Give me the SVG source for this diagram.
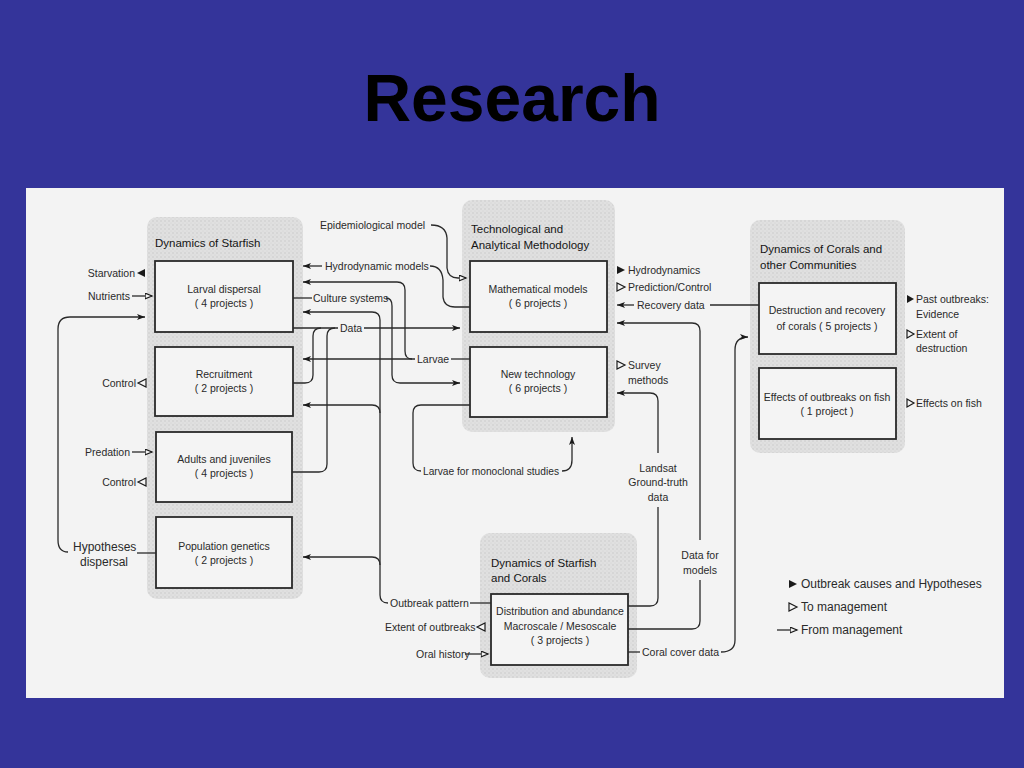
<svg xmlns="http://www.w3.org/2000/svg" width="1024" height="768" viewBox="0 0 1024 768">
<style>
.t{font-family:"Liberation Sans",Arial,sans-serif;font-size:10.5px;fill:#2a2a2a}
.h{font-family:"Liberation Sans",Arial,sans-serif;font-size:11.5px;fill:#151515}
.l{font-family:"Liberation Sans",Arial,sans-serif;font-size:12px;fill:#2a2a2a}
.m{text-anchor:middle}
.e{text-anchor:end}
.box{fill:#f4f4f4;stroke:#2a2a2a;stroke-width:1.8}
.grp{fill:url(#dots)}
.c{fill:none;stroke:#2a2a2a;stroke-width:1.3}
.a{marker-end:url(#arr)}
.o{marker-end:url(#tri)}
.ft{fill:#1a1a1a}
.ot{fill:#f4f4f4;stroke:#1a1a1a;stroke-width:1.2}
</style>
<defs>
<pattern id="dots" width="4" height="4" patternUnits="userSpaceOnUse">
<rect width="4" height="4" fill="#e0e0e0"/>
<circle cx="1" cy="1" r="0.8" fill="#c9c9c9"/>
<circle cx="3" cy="3" r="0.6" fill="#d3d3d3"/>
</pattern>
<marker id="arr" markerWidth="9" markerHeight="7" refX="8" refY="3" orient="auto" markerUnits="userSpaceOnUse">
<path d="M0,0 L8,3 L0,6 L2,3 z" fill="#1a1a1a"/>
</marker>
<marker id="tri" markerWidth="9" markerHeight="8" refX="7.5" refY="3.5" orient="auto" markerUnits="userSpaceOnUse">
<path d="M0.6,0.6 L7.5,3.5 L0.6,6.4 z" fill="#f4f4f4" stroke="#1a1a1a" stroke-width="1.2"/>
</marker>
</defs>
<rect width="1024" height="768" fill="#34349a"/>
<text x="512" y="121" text-anchor="middle" font-family="Liberation Sans,Arial,sans-serif" font-weight="bold" font-size="66" fill="#000">Research</text>
<rect x="26" y="188" width="978" height="510" fill="#f3f3f3"/>

<g id="group-starfish">
<rect class="grp" x="147" y="217" width="156" height="382" rx="10"/>
<text class="h" x="155" y="247">Dynamics of Starfish</text>
</g>
<g id="group-tech">
<rect class="grp" x="462" y="200" width="153" height="232" rx="10"/>
<text class="h" x="471" y="233">Technological and</text>
<text class="h" x="471" y="249">Analytical Methodology</text>
</g>
<g id="group-corals">
<rect class="grp" x="750" y="220" width="155" height="233" rx="10"/>
<text class="h" x="760" y="253">Dynamics of Corals and</text>
<text class="h" x="760" y="269">other Communities</text>
</g>
<g id="group-starfish-corals">
<rect class="grp" x="480" y="533" width="157" height="145" rx="10"/>
<text class="h" x="491" y="567">Dynamics of Starfish</text>
<text class="h" x="491" y="582">and Corals</text>
</g>

<g id="larval">
<rect class="box" x="155" y="261" width="138" height="71"/>
<text class="t m" x="224" y="293">Larval dispersal</text>
<text class="t m" x="224" y="307">( 4 projects )</text>
</g>
<g id="recruitment">
<rect class="box" x="155" y="347" width="138" height="69"/>
<text class="t m" x="224" y="378">Recruitment</text>
<text class="t m" x="224" y="392">( 2 projects )</text>
</g>
<g id="adults">
<rect class="box" x="156" y="432" width="136" height="70"/>
<text class="t m" x="224" y="463">Adults and juveniles</text>
<text class="t m" x="224" y="477">( 4 projects )</text>
</g>
<g id="genetics">
<rect class="box" x="156" y="517" width="136" height="71"/>
<text class="t m" x="224" y="550">Population genetics</text>
<text class="t m" x="224" y="564">( 2 projects )</text>
</g>
<g id="math">
<rect class="box" x="470" y="261" width="137" height="71"/>
<text class="t m" x="538" y="293">Mathematical models</text>
<text class="t m" x="538" y="307">( 6 projects )</text>
</g>
<g id="newtech">
<rect class="box" x="470" y="347" width="137" height="70"/>
<text class="t m" x="538" y="378">New technology</text>
<text class="t m" x="538" y="392">( 6 projects )</text>
</g>
<g id="destruction">
<rect class="box" x="759" y="283" width="137" height="71"/>
<text class="t m" x="827" y="314">Destruction and recovery</text>
<text class="t m" x="827" y="330">of corals ( 5 projects )</text>
</g>
<g id="fish">
<rect class="box" x="759" y="368" width="137" height="71"/>
<text class="t m" x="827" y="401">Effects of outbreaks on fish</text>
<text class="t m" x="827" y="415">( 1 project )</text>
</g>
<g id="distribution">
<rect class="box" x="491" y="594" width="137" height="71"/>
<text class="t m" x="560" y="615">Distribution and abundance</text>
<text class="t m" x="560" y="630">Macroscale / Mesoscale</text>
<text class="t m" x="560" y="644">( 3 projects )</text>
</g>

<g id="connectors">
<text class="t e" x="135" y="277">Starvation</text>
<polygon class="ft" points="137,273 145,269 145,277"/>
<text class="t e" x="130" y="300">Nutrients</text>
<path class="c o" d="M132 296 H152"/>
<path class="c a" d="M68 552 Q58 552 58 540 V329 Q58 317 70 317 H145"/>
<text class="l" x="73" y="551">Hypotheses</text>
<text class="l" x="80" y="566">dispersal</text>
<path class="c" d="M137 553 H156"/>
<text class="t e" x="136" y="387">Control</text>
<polygon class="ot" points="138,383 146,379 146,387"/>
<text class="t e" x="130" y="456">Predation</text>
<path class="c o" d="M132 452 H152"/>
<text class="t e" x="136" y="486">Control</text>
<polygon class="ot" points="138,482 146,478 146,486"/>

<text class="t" x="320" y="229">Epidemiological  model</text>
<path class="c o" d="M431 225 Q446 225 447 238 V268 Q448 278 458 278 H466"/>
<path class="c a" d="M322 266 H303"/>
<text class="t" x="325" y="270">Hydrodynamic  models</text>
<path class="c" d="M430 266 Q442 266 443 280 V297 Q444 307 455 307 H470"/>
<path class="c a" d="M412 359 Q405 359 405 351 V290 Q405 282 397 282 H303"/>
<path class="c a" d="M415 359 H303"/>
<text class="t" x="417" y="363">Larvae</text>
<path class="c" d="M451 359 H470"/>
<path class="c" d="M293 298 H312"/>
<text class="t" x="313" y="302">Culture systems</text>
<path class="c a" d="M386 298 Q392 298 392 306 V375 Q392 383 400 383 H460"/>
<path class="c a" d="M388 603 Q380 603 380 595 V320 Q380 312 372 312 H303"/>
<path class="c a" d="M380 413 Q380 405 372 405 H303"/>
<path class="c a" d="M380 565 Q380 557 372 557 H303"/>
<text class="t" x="390" y="607">Outbreak pattern</text>
<path class="c" d="M470 603 H491"/>
<path class="c" d="M293 328 H338"/>
<text class="t" x="340" y="332">Data</text>
<path class="c a" d="M364 328 H460"/>
<path class="c" d="M293 383 H305 Q313 383 313 375 V336 Q313 328 321 328"/>
<path class="c" d="M292 472 H319 Q327 472 327 464 V336 Q327 328 335 328"/>
<path class="c" d="M470 405 H421 Q413 405 413 413 V463 Q413 471 421 471"/>
<text class="t" x="423" y="475" textLength="136" lengthAdjust="spacingAndGlyphs">Larvae for monoclonal studies</text>
<path class="c a" d="M562 471 Q572 471 572 460 V437"/>
<text class="t" x="385" y="631">Extent of outbreaks</text>
<polygon class="ot" points="477,627 485,623 485,631"/>
<text class="t" x="416" y="658">Oral history</text>
<path class="c o" d="M465 654 H488"/>

<polygon class="ft" points="625,270 617,266 617,274"/>
<text class="t" x="628" y="274">Hydrodynamics</text>
<polygon class="ot" points="625,287 617,283 617,291"/>
<text class="t" x="628" y="291">Prediction/Control</text>
<path class="c a" d="M634 305 H617"/>
<text class="t" x="637" y="309">Recovery  data</text>
<path class="c" d="M710 305 H759"/>
<path class="c a" d="M700 540 V331 Q700 323 692 323 H617"/>
<text class="t m" x="700" y="559">Data for</text>
<text class="t m" x="700" y="574">models</text>
<path class="c" d="M628 629 H692 Q700 629 700 621 V580"/>
<polygon class="ot" points="625,365 617,361 617,369"/>
<text class="t" x="628" y="369">Survey</text>
<text class="t" x="628" y="384">methods</text>
<path class="c a" d="M658 453 V401 Q658 393 650 393 H617"/>
<text class="t m" x="658" y="472">Landsat</text>
<text class="t m" x="658" y="486">Ground-truth</text>
<text class="t m" x="658" y="501">data</text>
<path class="c" d="M628 606 H650 Q658 606 658 598 V507"/>
<path class="c" d="M628 652 H640"/>
<text class="t" x="642" y="656">Coral cover data</text>
<path class="c a" d="M721 652 Q735 652 735 640 V350 Q735 337 748 337"/>

<polygon class="ft" points="914,299 907,295 907,303"/>
<text class="t" x="916" y="303">Past outbreaks:</text>
<text class="t" x="916" y="318">Evidence</text>
<polygon class="ot" points="914,334 907,330 907,338"/>
<text class="t" x="916" y="338">Extent of</text>
<text class="t" x="916" y="352">destruction</text>
<polygon class="ot" points="914,403 907,399 907,407"/>
<text class="t" x="916" y="407">Effects on fish</text>
</g>

<g id="legend">
<polygon class="ft" points="797,584 789,580 789,588"/>
<text class="l" x="801" y="588">Outbreak causes and Hypotheses</text>
<polygon class="ot" points="797,607 789,603 789,611"/>
<text class="l" x="801" y="611">To management</text>
<path class="c o" d="M777 630 H797"/>
<text class="l" x="801" y="634">From management</text>
</g>
</svg>
